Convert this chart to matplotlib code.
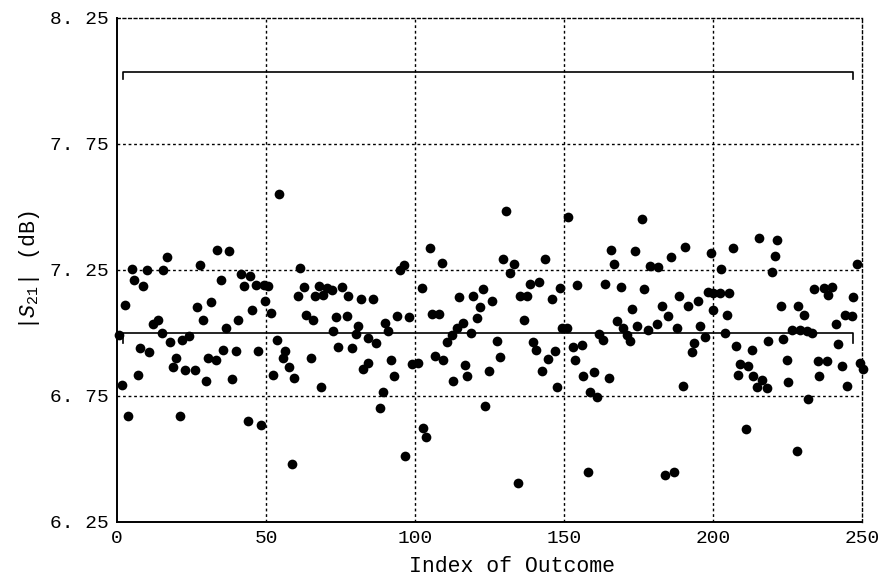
import matplotlib
matplotlib.use("Agg")
import matplotlib.pyplot as plt

# Outcome index and |S21| (dB)
index = [16.9, 4.9, 10.0, 15.5, 5.7, 8.6, 2.7, 12.2, 13.9, 15.0, 0.8, 17.8, 21.7, 7.7, 10.8, 19.8,
         18.9, 22.8, 7.2, 1.6, 3.8, 21.1,
         33.4, 37.7, 27.9, 34.9, 41.6, 44.6, 42.7, 46.6, 26.7, 31.5, 29.0, 40.7, 45.4, 36.5, 24.2,
         35.7, 39.8, 47.4, 30.6, 33.1, 26.2, 29.8, 38.7, 43.8, 48.3,
         54.5, 61.4, 50.8, 49.4, 62.8, 67.9, 70.4, 72.0, 60.6, 66.4, 69.2, 49.7, 51.6, 63.4, 65.7,
         73.5, 72.4, 53.6, 56.4, 55.6, 57.8, 52.5, 59.4, 65.0, 74.3, 68.5, 58.6,
         95.0, 96.4, 75.4, 77.6, 81.9, 86.0, 77.1, 80.8, 80.1, 89.9, 91.1, 93.8, 98.0, 79.0, 84.3,
         86.8, 82.7, 84.1, 91.9, 93.1, 98.9, 89.1, 88.3, 96.6,
         105.0, 108.9, 102.2, 105.6, 108.2, 114.9, 119.6, 122.9, 121.8, 120.7, 116.0, 114.0, 112.3,
         110.8, 118.7, 101.1, 106.7, 109.5, 116.8, 117.6, 112.6, 123.5, 102.8, 103.7,
         130.4, 129.6, 133.3, 131.9, 143.6, 125.7, 138.6, 141.6, 135.2, 137.5, 145.9, 148.7, 136.7,
         149.2, 127.4, 139.7, 140.5, 128.5, 147.0, 144.5, 124.8, 142.5, 147.5, 134.7,
         151.5, 165.7, 173.8, 166.9, 154.5, 163.8, 169.0, 172.7, 150.9, 167.9, 169.9, 171.0, 172.1,
         174.4, 161.9, 163.0, 153.1, 155.9, 153.7, 156.5, 160.1, 165.2, 158.7, 161.2, 158.2,
         176.1, 185.9, 190.6, 199.3, 178.9, 181.7, 177.0, 188.6, 191.5, 194.9, 198.4, 183.0, 184.8,
         200.1, 178.1, 181.1, 187.8, 195.6, 197.3, 193.7, 192.8, 190.0, 183.9, 187.0,
         215.5, 221.6, 206.6, 220.8, 202.6, 219.7, 200.1, 202.3, 205.5, 222.7, 204.6, 204.0, 207.7,
         213.0, 218.6, 223.6, 224.7, 209.1, 211.9, 208.5, 213.5, 216.3, 214.6, 218.0, 225.3, 211.1,
         248.2, 234.0, 237.4, 239.8, 238.7, 247.1, 228.6, 230.6, 244.3, 246.5, 241.2, 226.6, 229.2,
         231.4, 233.1, 242.1, 235.1, 238.1, 243.3, 249.3, 250.2, 235.6, 244.9, 232.0, 228.1]

s21_db = [7.300, 7.254, 7.251, 7.251, 7.212, 7.188, 7.110, 7.037, 7.050, 7.000, 6.993, 6.963, 6.974,
          6.940, 6.923, 6.901, 6.865, 6.852, 6.832, 6.795, 6.672, 6.672,
          7.328, 7.324, 7.270, 7.212, 7.234, 7.225, 7.188, 7.192, 7.103, 7.124, 7.053, 7.053, 7.090,
          7.020, 6.987, 6.934, 6.927, 6.927, 6.901, 6.894, 6.852, 6.811, 6.817, 6.652, 6.634,
          7.553, 7.257, 7.188, 7.192, 7.183, 7.188, 7.179, 7.172, 7.146, 7.146, 7.152, 7.126, 7.079,
          7.073, 7.053, 7.063, 7.007, 6.971, 6.927, 6.901, 6.865, 6.832, 6.821, 6.901, 6.943, 6.784,
          6.481,
          7.251, 7.271, 7.182, 7.148, 7.135, 7.135, 7.069, 7.029, 6.997, 7.040, 7.007, 7.066, 7.063,
          6.940, 6.980, 6.960, 6.857, 6.881, 6.894, 6.828, 6.878, 6.765, 6.702, 6.513,
          7.337, 7.278, 7.179, 7.075, 7.075, 7.142, 7.146, 7.175, 7.103, 7.060, 7.040, 7.020, 6.993,
          6.963, 7.000, 6.881, 6.907, 6.894, 6.874, 6.828, 6.808, 6.712, 6.623, 6.587,
          7.483, 7.294, 7.275, 7.238, 7.294, 7.126, 7.196, 7.201, 7.148, 7.148, 7.135, 7.179, 7.053,
          7.020, 6.970, 6.963, 6.931, 6.905, 6.927, 6.897, 6.848, 6.848, 6.784, 6.405,
          7.460, 7.331, 7.324, 7.275, 7.192, 7.196, 7.183, 7.095, 7.020, 7.046, 7.020, 6.993, 6.967,
          7.029, 6.997, 6.971, 6.943, 6.954, 6.894, 6.828, 6.844, 6.821, 6.765, 6.746, 6.447,
          7.452, 7.302, 7.341, 7.317, 7.267, 7.262, 7.175, 7.148, 7.108, 7.126, 7.161, 7.106, 7.069,
          7.090, 7.013, 7.037, 7.020, 7.026, 6.984, 6.960, 6.923, 6.788, 6.438, 6.447,
          7.377, 7.368, 7.337, 7.307, 7.254, 7.241, 7.159, 7.159, 7.159, 7.108, 7.073, 7.000, 6.950,
          6.934, 6.967, 6.976, 6.892, 6.878, 6.868, 6.835, 6.828, 6.815, 6.786, 6.782, 6.804, 6.619,
          7.275, 7.175, 7.179, 7.183, 7.152, 7.143, 7.108, 7.073, 7.073, 7.066, 7.037, 7.013, 7.013,
          7.007, 7.000, 6.958, 6.888, 6.888, 6.870, 6.881, 6.857, 6.831, 6.788, 6.738, 6.530]

mean_level = 7.00
upper_level = 8.037
bracket_range = [2, 247]

xticks = [0, 50, 100, 150, 200, 250]
yticks = [6.25, 6.75, 7.25, 7.75, 8.25]
ytick_labels = ["6. 25", "6. 75", "7. 25", "7. 75", "8. 25"]

mono = "Liberation Mono"
plt.rcParams["font.family"] = [mono, "DejaVu Sans Mono"]
plt.rcParams["mathtext.fontset"] = "custom"
plt.rcParams["mathtext.it"] = mono + ":italic"
plt.rcParams["mathtext.rm"] = mono

fig = plt.figure(figsize=(8.94, 5.84), dpi=100)
ax = fig.add_axes([117 / 894, 1 - 522 / 584, (862 - 117) / 894, (522 - 18) / 584])

ax.set_xlim(0, 250)
ax.set_ylim(6.25, 8.25)

grid_style = dict(color="black", linewidth=1.0, linestyle=(0, (2, 2)), zorder=1)
for xv in xticks[1:-1]:
    ax.axvline(xv, **grid_style)
for yv in [6.75, 7.25, 7.75]:
    ax.axhline(yv, **grid_style)

# bracket lines
x0, x1 = bracket_range
ax.plot([x0, x0, x1, x1], [mean_level - 0.04, mean_level, mean_level, mean_level - 0.04],
        color="black", linewidth=1.2, zorder=2)
ax.plot([x0, x0, x1, x1], [upper_level - 0.03, upper_level, upper_level, upper_level - 0.03],
        color="black", linewidth=1.2, zorder=2)

ax.plot(index, s21_db, linestyle="none", marker="o", markersize=7.0, color="black",
        markeredgewidth=0, zorder=3, clip_on=False)

for side in ["top", "right"]:
    ax.spines[side].set_linestyle((0, (2, 2)))
    ax.spines[side].set_linewidth(1.0)
for side in ["left", "bottom"]:
    ax.spines[side].set_linewidth(1.4)

ax.set_xticks(xticks)
ax.set_xticklabels([str(v) for v in xticks])
ax.set_yticks(yticks)
ax.set_yticklabels(ytick_labels)
ax.tick_params(length=0, labelsize=14, pad=6)

ax.set_xlabel("Index of Outcome", fontsize=15.5)
ax.xaxis.set_label_coords(0.53, -0.068)
ax.set_ylabel(r"|$S_{21}$| (dB)", fontsize=15.5, labelpad=6)

fig.savefig("out.png", dpi=100)
